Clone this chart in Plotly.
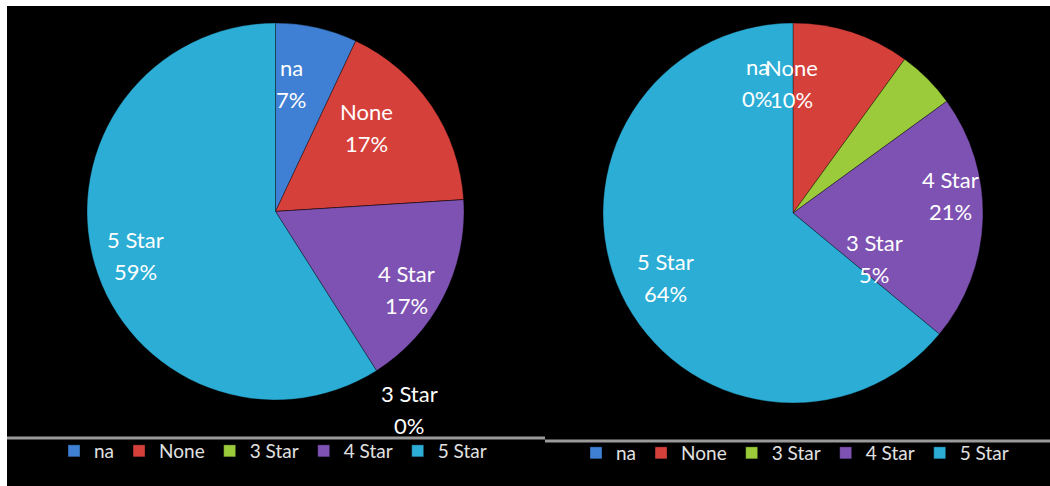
import math
import plotly.graph_objects as go

# ---------------- data ----------------
categories = ["na", "None", "3 Star", "4 Star", "5 Star"]
left_values = [7, 17, 0, 17, 59]
right_values = [0, 10, 5, 21, 64]

# ---------------- style ----------------
W, H = 1050, 486
colors = ["#3F80D4", "#D5403B", "#9BCB3A", "#7E52B2", "#2BADD5"]
FONT = "Lato, 'Open Sans', sans-serif"

# pie geometry (pixels): centre x, centre y (from top), radius
left_geo = (275.5, 211.5, 188.5)
right_geo = (793.0, 213.0, 190.0)
LABEL_R = 0.68  # label radius as fraction of pie radius
# Excel-style label nudges (pixels, x right / y up)
left_nudge = [(-12, 3), (-15, 12), (6, -206), (17, -20), (-17, -8)]
right_nudge = [(-36, 1), (-41, 7), (-10, -137), (28, 22), (-11, -9)]


def domain(geo):
    cx, cy, r = geo
    return dict(x=[(cx - r) / W, (cx + r) / W],
                y=[(H - cy - r) / H, (H - cy + r) / H])


def label_annotations(values, geo, nudges):
    cx, cy, r = geo
    total = float(sum(values))
    anns = []
    cum = 0.0
    for cat, v, (nx, ny) in zip(categories, values, nudges):
        mid = (cum + v / 2.0) / total * 2 * math.pi
        cum += v
        px = cx + LABEL_R * r * math.sin(mid)
        py = cy - LABEL_R * r * math.cos(mid)
        pct = f"{round(v / total * 100):.0f}%"
        for txt, dy in ((cat, 16), (pct, -16)):
            anns.append(dict(
                x=px / W, y=(H - py) / H, xref="paper", yref="paper",
                text=txt, showarrow=False, xanchor="center", yanchor="middle",
                xshift=nx, yshift=ny + dy,
                font=dict(family=FONT, size=22, color="#ffffff"),
            ))
    return anns


# pie legends merge equal labels across traces; a zero-width space keeps
# the right-hand pie's legend entries separate (text looks identical)
right_labels = [c + "\u200b" for c in categories]

fig = go.Figure()
fig.add_trace(go.Pie(
    labels=categories, values=left_values, sort=False, direction="clockwise",
    rotation=0, textinfo="none", domain=domain(left_geo),
    marker=dict(colors=colors, line=dict(color="rgba(0,0,0,0.35)", width=1)),
    legend="legend", name="left",
))
fig.add_trace(go.Pie(
    labels=right_labels, values=right_values, sort=False, direction="clockwise",
    rotation=0, textinfo="none", domain=domain(right_geo),
    marker=dict(colors=colors, line=dict(color="rgba(0,0,0,0.35)", width=1)),
    legend="legend2", name="right",
))

shapes = [
    # black panel
    dict(type="rect", xref="paper", yref="paper", x0=7 / W, x1=1.0,
         y0=0, y1=(H - 6) / H, fillcolor="#000000", line=dict(width=0),
         layer="below"),
    # separator lines
    dict(type="line", xref="paper", yref="paper", x0=7 / W, x1=545 / W,
         y0=(H - 438) / H, y1=(H - 438) / H,
         line=dict(color="#9a9a9a", width=3)),
    dict(type="line", xref="paper", yref="paper", x0=545 / W, x1=1.0,
         y0=(H - 441) / H, y1=(H - 441) / H,
         line=dict(color="#9a9a9a", width=3)),
]

legend_style = dict(orientation="h", xanchor="center", yanchor="middle",
                    bgcolor="rgba(0,0,0,0)",
                    font=dict(family=FONT, size=19, color="#e0e0e0"),
                    itemclick=False, itemdoubleclick=False)

fig.update_layout(
    width=W, height=H,
    margin=dict(l=0, r=0, t=0, b=0),
    paper_bgcolor="#ffffff", plot_bgcolor="#000000",
    shapes=shapes,
    annotations=label_annotations(left_values, left_geo, left_nudge)
    + label_annotations(right_values, right_geo, right_nudge),
    legend=dict(x=273 / W, y=(H - 451) / H, **legend_style),
    legend2=dict(x=795 / W, y=(H - 453) / H, **legend_style),
    showlegend=True,
)

fig.write_html("out.html",
               config={"displayModeBar": False},
               post_script="document.body.style.margin='0';"
                           "document.body.style.overflow='hidden';")
